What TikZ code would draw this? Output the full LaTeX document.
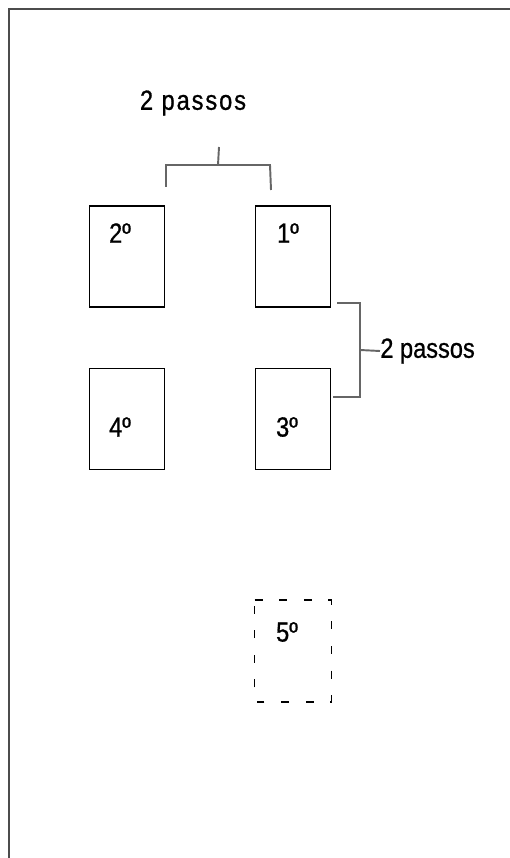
\documentclass[tikz,border=0pt]{standalone}
\usepackage{fontspec}
\setmainfont{Liberation Sans}[FakeStretch=0.85, FakeBold=0.8]
\usepackage{tikz}
\usetikzlibrary{calc}

\begin{document}
\begin{tikzpicture}[x=0.02cm, y=-0.02cm,
		box/.style={rectangle, draw=black, line width=0.7pt, minimum width=43pt, minimum height=57.5pt, inner sep=0pt},
		num/.style={inner sep=0pt, font=\fontsize{15.8}{18}\selectfont},
		brace/.style={draw=black!60, line width=1.1pt}]
		\useasboundingbox (0, 0) rectangle (510, 858);
		\draw[black!70, line width=1.2pt] (9, 858) -- (9, 9) -- (510, 9);

		\node[box] (b2) at (127, 256.5) {};
		\node[box] (b1) at (293, 256.5) {};
		\node[box] (b4) at (127, 419) {};
		\node[box] (b3) at (293, 419) {};
		\node[box, draw=none] (b5) at (293, 651) {};
		\draw[line width=0.8pt, dash pattern=on 4.5pt off 9.5pt] (b5.north west) -- (b5.north east) -- (b5.south east) -- (b5.south west) -- cycle;

		\node[num] (t2) at (120, 233) {2º};
		\node[num] (t1) at (288, 233) {1º};
		\node[num] (t4) at (120, 427) {4º};
		\node[num] (t3) at (287, 427) {3º};
		\node[num] (t5) at (287, 632) {5º};

		% bracket over the top pair
		\coordinate (l1) at (166, 187);
		\coordinate (l2) at (271, 190);
		\coordinate (tick1) at (219, 147);
		\draw[brace] (l1) -- (166, 165) -- (270, 165) -- (l2);
		\draw[brace] (218, 165) -- (tick1);
		\node[num, font=\fontsize{15.8}{18}\selectfont\addfontfeature{LetterSpace=7}] (p1) at (193, 103) {2 passos};

		% bracket on the right
		\coordinate (r1) at (337, 303);
		\coordinate (r2) at (333, 397);
		\node[num, anchor=west] (p2) at (380, 351) {2 passos};
		\draw[brace] (r1) -- (360, 303) -- (360, 397) -- (r2);
		\draw[brace] (360, 350) -- (p2.west);
	\end{tikzpicture}
\end{document}
